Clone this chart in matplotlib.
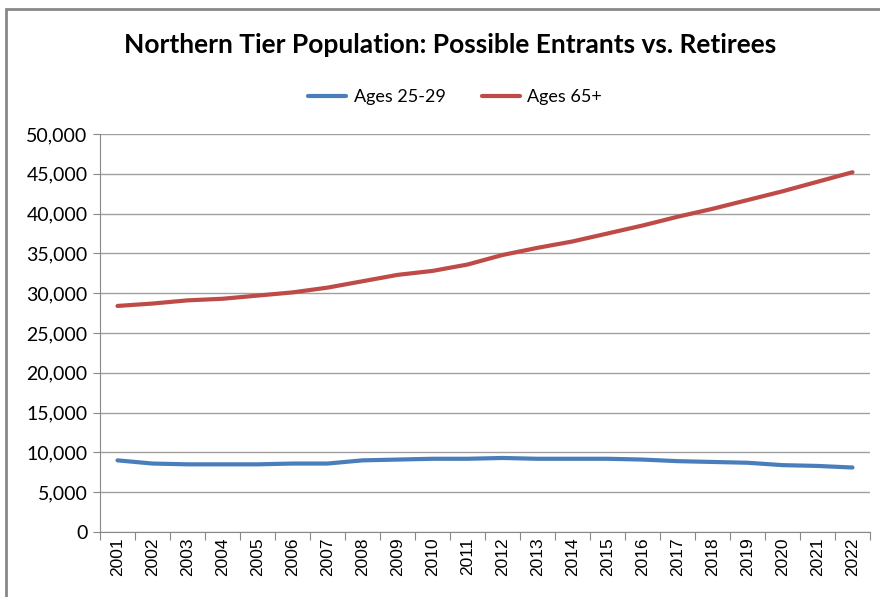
import numpy as np
import matplotlib.pyplot as plt
from matplotlib.patches import Rectangle
from matplotlib.ticker import FuncFormatter

# data
years = [str(y) for y in range(2001, 2023)]
ages_25_29 = [9000, 8600, 8500, 8500, 8500, 8600, 8600, 9000, 9100, 9200, 9200,
              9300, 9200, 9200, 9200, 9100, 8900, 8800, 8700, 8400, 8300, 8100]
ages_65_plus = [28400, 28700, 29100, 29300, 29700, 30100, 30700, 31500, 32300, 32800, 33600,
                34800, 35700, 36500, 37500, 38500, 39600, 40600, 41700, 42800, 44000, 45200]

plt.rcParams['font.family'] = ['Lato', 'DejaVu Sans']

fig = plt.figure(figsize=(8.8, 5.97), dpi=100)
ax = fig.add_axes([100 / 880, 1 - 532 / 597, 770 / 880, 398 / 597])

x = np.arange(len(years))
ax.plot(x, ages_25_29, color='#4a7ebb', lw=3, label='Ages 25-29', solid_capstyle='round')
ax.plot(x, ages_65_plus, color='#be4b48', lw=3, label='Ages 65+', solid_capstyle='round')

ax.set_xlim(-0.5, len(years) - 0.5)
ax.set_ylim(0, 50000)
ax.set_yticks(np.arange(0, 50001, 5000))
ax.yaxis.set_major_formatter(FuncFormatter(lambda v, p: f'{int(v):,}'))
ax.grid(axis='y', color='#a0a0a0', lw=1)
ax.set_axisbelow(True)

# category labels centred, tick marks on the boundaries
ax.set_xticks(np.arange(-0.5, len(years)), labels=[])
ax.set_xticks(x, labels=years, minor=True)
ax.tick_params(axis='x', which='minor', length=0, rotation=90, labelsize=12.5, pad=4)
ax.tick_params(axis='x', which='major', length=6, color='#888888')
for lab in ax.get_xticklabels(minor=True):
    lab.set_family(['Liberation Sans', 'DejaVu Sans'])
ax.tick_params(axis='y', length=5, color='#888888', labelsize=14, pad=4)

for s in ['top', 'right']:
    ax.spines[s].set_visible(False)
for s in ['left', 'bottom']:
    ax.spines[s].set_color('#888888')

fig.text(450 / 880, 1 - 45 / 597, 'Northern Tier Population: Possible Entrants vs. Retirees',
         ha='center', va='center', fontsize=19, fontweight='bold')
fig.legend(loc='center', bbox_to_anchor=(455 / 880, 1 - 97 / 597), ncol=2, frameon=False,
           fontsize=13, handlelength=2.1, columnspacing=2.0, handletextpad=0.4)

# outer chart border
fig.patches.append(Rectangle((6 / 880, -0.05), 1.2, 1 - 9 / 597 + 0.05,
                             transform=fig.transFigure, fill=False,
                             edgecolor='#888888', lw=2))

fig.savefig('out.png', dpi=100)
